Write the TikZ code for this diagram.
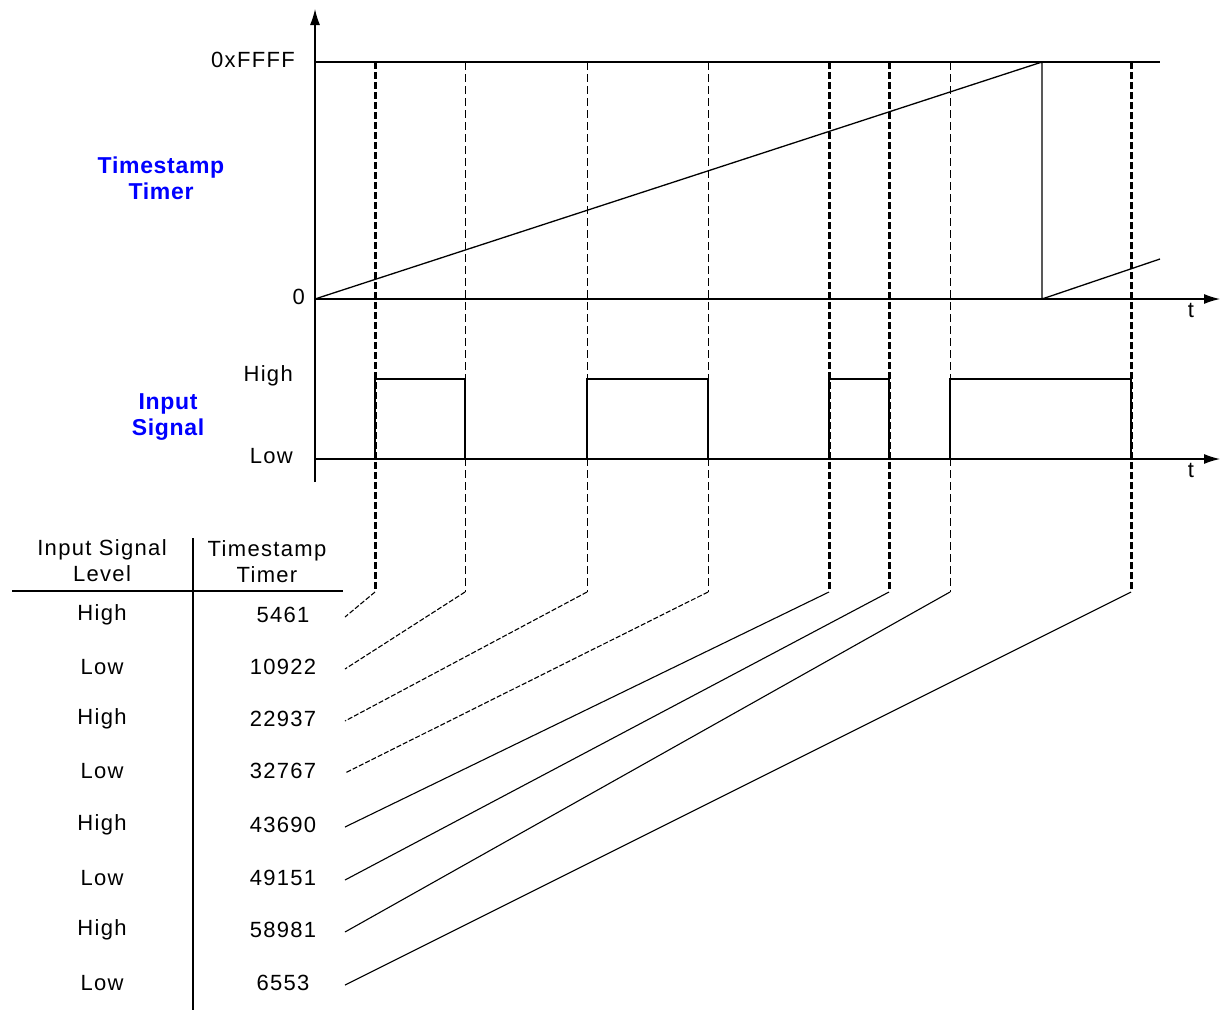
\documentclass[tikz,border=0pt]{standalone}
\usepackage{fontspec}
\setmainfont{Liberation Sans}
\newfontfamily\pixfont[LetterSpace=6]{Liberation Sans}
\newfontfamily\ttlfont[LetterSpace=3]{Liberation Sans}
\usetikzlibrary{arrows.meta}
\definecolor{lblblue}{RGB}{0,0,255}
\begin{document}
\begin{tikzpicture}[x=1pt,y=-1pt,
  txt/.style={font=\pixfont\fontsize{22}{26}\selectfont, inner sep=0pt, align=center},
  ttl/.style={font=\ttlfont\bfseries\fontsize{23}{26}\selectfont, text=lblblue, inner sep=0pt, align=center},
  axis/.style={line width=1.3pt},
  sig/.style={line width=1.3pt},
  thickdash/.style={line width=3pt, dash pattern=on 7pt off 3pt},
  thindash/.style={line width=1pt, dash pattern=on 8pt off 4pt},
  diagdash/.style={line width=1.1pt, dash pattern=on 5pt off 2pt},
  diag/.style={line width=1.1pt},
  tip/.style={-{Latex[length=16pt,width=10pt]}}]
\useasboundingbox (0,0) rectangle (1225,1012);

% axes
\coordinate (ybot) at (315,482);
\coordinate (ytop) at (315,9);
\coordinate (top0) at (315,62);
\coordinate (topE) at (1160,62);
\coordinate (z0) at (315,299);
\coordinate (zE) at (1220,299);
\coordinate (l0) at (315,459);
\coordinate (lE) at (1220,459);
\draw[axis,tip] (ybot) -- (ytop);
\draw[axis] (top0) -- (topE);
\draw[axis,tip] (z0) -- (zE);
\draw[axis,tip] (l0) -- (lE);

% ramp
\coordinate (rpk) at (1042,62);
\coordinate (rz) at (1042,299);
\coordinate (rend) at (1160,259);
\draw[sig] (z0) -- (rpk) -- (rz) -- (rend);

% axis labels
\node[txt, anchor=east] (lffff) at (295,60) {0xFFFF};
\node[txt, anchor=east] (lzero) at (305,297) {0};
\node[txt, anchor=east] (lhigh) at (293,376) {High};
\node[txt, anchor=east] (llow) at (293,456) {Low};
\node[txt] (t1) at (1191,310) {t};
\node[txt] (t2) at (1191,470) {t};
\node[ttl] (tstitle) at (161,178) {Timestamp\\Timer};
\node[ttl] (insig) at (168,417) {Input\\Signal};

% input signal
\draw[sig] (375,459) -- (375,379) -- (465,379) -- (465,459)
  (587,459) -- (587,379) -- (708,379) -- (708,459)
  (829,459) -- (829,379) -- (889,379) -- (889,459)
  (950,459) -- (950,379) -- (1131,379) -- (1131,459);

% table
\coordinate (hl) at (12,591);
\coordinate (hr) at (343,591);
\coordinate (vt) at (193,538);
\coordinate (vb) at (193,1010);
\draw[line width=1.3pt] (hl) -- (hr);
\draw[line width=1.3pt] (vt) -- (vb);
\node[txt] (h1) at (102,561) {Input Signal\\Level};
\node[txt] (h2) at (267,562) {Timestamp\\Timer};

% vertical markers and rows
\foreach \i/\x/\y/\lvl/\val/\vs/\ds in {
  1/375/617/High/5461/thickdash/diagdash,
  2/465/669/Low/10922/thindash/diagdash,
  3/587/721/High/22937/thindash/diagdash,
  4/708/773/Low/32767/thindash/diagdash,
  5/829/827/High/43690/thickdash/diag,
  6/889/880/Low/49151/thickdash/diag,
  7/950/932/High/58981/thindash/diag,
  8/1131/985/Low/6553/thickdash/diag}{
  \coordinate (vtop\i) at (\x,62);
  \coordinate (vbot\i) at (\x,592);
  \coordinate (row\i) at (345,\y);
  \draw[\vs] (vtop\i) -- (vbot\i);
  \draw[\ds] (vbot\i) -- (row\i);
  \node[txt] (lv\i) at (102,\y-2) {\lvl};
  \node[txt] (val\i) at (283,\y-2) {\val};
}
\end{tikzpicture}
\end{document}
